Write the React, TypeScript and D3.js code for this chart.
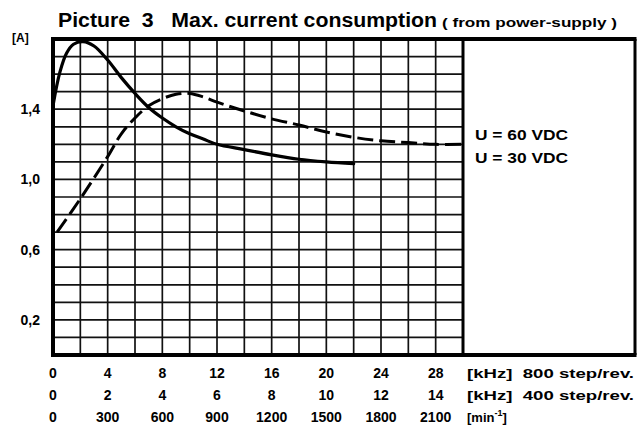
import React from "react";
import * as d3 from "d3";

// ---- data ----
const kHz800Ticks = [0, 4, 8, 12, 16, 20, 24, 28];
const kHz400Labels = ["0", "2", "4", "6", "8", "10", "12", "14"];
const rpmLabels = ["0", "300", "600", "900", "1200", "1500", "1800", "2100"];
const yTickValues = [0.2, 0.6, 1.0, 1.4];
const yTickLabels = ["0,2", "0,6", "1,0", "1,4"];

// solid curve (kHz @ 800 step/rev, A)
const solidKHz = [0, 0.5, 1, 1.5, 2.2, 3, 4, 5, 6, 7, 8, 9, 10, 11, 12, 14, 16, 18, 20, 22];
const solidAmp = [1.42, 1.61, 1.72, 1.77, 1.785, 1.76, 1.68, 1.58, 1.49, 1.41, 1.35, 1.3, 1.26, 1.23, 1.2, 1.17, 1.14, 1.115, 1.1, 1.09];

// dashed curve
const dashKHz = [0.3, 2, 4, 5, 6, 7, 8, 9, 10, 11, 12, 14, 16, 18, 20, 22, 24, 26, 28, 30];
const dashAmp = [0.7, 0.89, 1.13, 1.26, 1.35, 1.42, 1.46, 1.485, 1.49, 1.47, 1.44, 1.39, 1.345, 1.31, 1.27, 1.24, 1.22, 1.21, 1.2, 1.2];

const legendLabels = ["U = 60 VDC", "U = 30 VDC"];

const FONT = "'Liberation Sans', Arial, Helvetica, sans-serif";

export default function App() {
  const W = 639, H = 425;
  const x = d3.scaleLinear().domain([0, 30]).range([53, 463]);
  const y = d3.scaleLinear().domain([0, 1.8]).range([355, 39]);

  const vGrid = d3.range(0, 30.001, 2);
  const hGrid = d3.range(0, 1.8001, 0.1);

  const line = d3
    .line<[number, number]>()
    .x((d) => x(d[0]))
    .y((d) => y(d[1]))
    .curve(d3.curveCatmullRom.alpha(0.5));

  const solidPts = solidKHz.map((k, i) => [k, solidAmp[i]] as [number, number]);
  const dashPts = dashKHz.map((k, i) => [k, dashAmp[i]] as [number, number]);

  const boxRight = 635;

  return (
    <svg
      width={W}
      height={H}
      viewBox={`0 0 ${W} ${H}`}
      style={{ position: "absolute", left: 0, top: 0, background: "#fff" }}
      fontFamily={FONT}
    >
      <rect x={0} y={0} width={W} height={H} fill="#fff" />
      {/* grid */}
      {vGrid.map((v) => (
        <line key={"v" + v} x1={x(v)} x2={x(v)} y1={y(1.8)} y2={y(0)} stroke="#111" strokeWidth={1.7} />
      ))}
      {hGrid.map((v) => (
        <line key={"h" + v.toFixed(1)} x1={x(0)} x2={x(30)} y1={y(v)} y2={y(v)} stroke="#111" strokeWidth={1.7} />
      ))}
      {/* borders */}
      <line x1={x(0)} x2={x(0)} y1={y(1.8) - 2} y2={y(0) + 2} stroke="#000" strokeWidth={4} />
      <line x1={x(0) - 2} x2={boxRight + 1.5} y1={y(1.8)} y2={y(1.8)} stroke="#000" strokeWidth={4} />
      <line x1={x(0) - 2} x2={boxRight + 1.5} y1={y(0)} y2={y(0)} stroke="#000" strokeWidth={4} />
      <line x1={x(30)} x2={x(30)} y1={y(1.8)} y2={y(0)} stroke="#000" strokeWidth={3} />
      <line x1={boxRight} x2={boxRight} y1={y(1.8)} y2={y(0)} stroke="#000" strokeWidth={3} />

      {/* curves */}
      <path d={line(solidPts) || ""} fill="none" stroke="#000" strokeWidth={3.2} strokeLinecap="round" />
      <path d={line(dashPts) || ""} fill="none" stroke="#000" strokeWidth={3} strokeDasharray="16,6" />

      {/* title */}
      <text x={58} y={27} fontSize={20} fontWeight="bold" textLength={379} lengthAdjust="spacingAndGlyphs" style={{ whiteSpace: "pre" }}>
        {"Picture  3   Max. current consumption"}
      </text>
      <text x={442} y={27} fontSize={13} fontWeight="bold" textLength={175} lengthAdjust="spacingAndGlyphs" style={{ whiteSpace: "pre" }}>
        {"( from power-supply )"}
      </text>

      {/* y axis */}
      <text x={12} y={42} fontSize={12} fontWeight="bold">[A]</text>
      {yTickValues.map((v, i) => (
        <text key={"yt" + i} x={40} y={y(v) + 5} fontSize={14} fontWeight="bold" textAnchor="end">
          {yTickLabels[i]}
        </text>
      ))}

      {/* x axis rows */}
      {kHz800Ticks.map((v, i) => (
        <g key={"xt" + i} fontSize={14} fontWeight="bold" textAnchor="middle">
          <text x={x(v)} y={378}>{String(v)}</text>
          <text x={x(v)} y={400}>{kHz400Labels[i]}</text>
          <text x={x(v)} y={422}>{rpmLabels[i]}</text>
        </g>
      ))}
      <text x={467} y={378} fontSize={13} fontWeight="bold" style={{ whiteSpace: "pre" }} textLength={167} lengthAdjust="spacingAndGlyphs">
        {"[kHz]  800 step/rev."}
      </text>
      <text x={467} y={400} fontSize={13} fontWeight="bold" style={{ whiteSpace: "pre" }} textLength={167} lengthAdjust="spacingAndGlyphs">
        {"[kHz]  400 step/rev."}
      </text>
      <text x={467} y={422} fontSize={13} fontWeight="bold">
        [min<tspan dy={-6} fontSize={9}>-1</tspan><tspan dy={6}>]</tspan>
      </text>

      {/* curve labels */}
      {legendLabels.map((s, i) => (
        <text key={"lg" + i} x={475} y={140 + i * 23} fontSize={14} fontWeight="bold" textLength={93} lengthAdjust="spacingAndGlyphs">
          {s}
        </text>
      ))}
    </svg>
  );
}
